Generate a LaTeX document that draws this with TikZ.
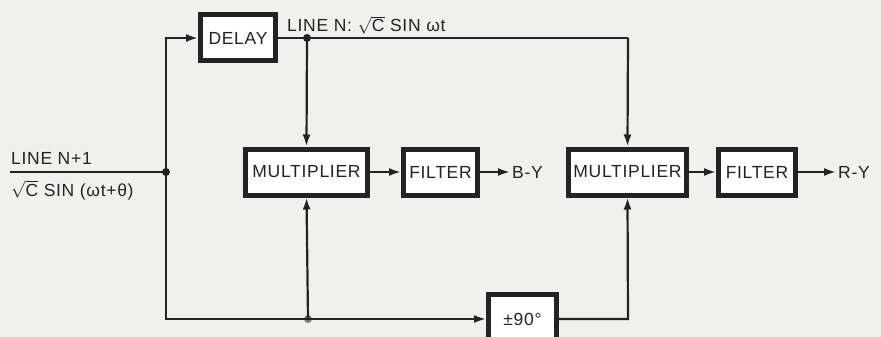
\documentclass[tikz,border=0pt]{standalone}
\usepackage{fontspec}
\setmainfont{Liberation Sans}[LetterSpace=4]
\usetikzlibrary{arrows.meta}
\definecolor{ink}{RGB}{35,35,35}
\definecolor{paper}{RGB}{240,240,238}
\tikzset{
  blk/.style={draw=ink, line width=5pt, fill=white, inner sep=0pt, minimum height=46pt, font=\fontsize{17.5}{20}\selectfont, text=ink},
  wire/.style={draw=ink, line width=2.2pt},
  arr/.style={wire, -{Latex[length=12pt,width=8pt]}},
  lbl/.style={font=\fontsize{17.5}{20}\selectfont, text=ink, inner sep=0pt},
  dot/.style={circle, fill=ink, inner sep=0pt, minimum size=8pt}
}
\begin{document}
\begin{tikzpicture}[x=1pt,y=-1pt]
\fill[paper] (0,0) rectangle (881,337);
\useasboundingbox (0,0) rectangle (881,337);
\begin{scope}
\clip (0,0) rectangle (881,337);
\node[blk, minimum width=75pt, minimum height=46pt] (delay) at (238,38) {DELAY};
\node[blk, minimum width=122pt] (mult1) at (306.5,172) {MULTIPLIER};
\node[blk, minimum width=74pt] (filt1) at (440.5,172) {FILTER};
\node[blk, minimum width=118pt] (mult2) at (627.5,172) {MULTIPLIER};
\node[blk, minimum width=77pt] (filt2) at (757,172) {FILTER};
\node[blk, minimum width=68pt, minimum height=50pt] (shift) at (522.5,319) {±90°};

\coordinate (in) at (10,172);
\node[dot] (jin) at (166,172) {};
\node[dot] (jtop) at (307,38) {};
\node[dot, fill=ink!60] (jbot) at (308,319) {};
\coordinate (ctop) at (628,38);
\coordinate (cbot) at (628,319);
\coordinate (cl1) at (166,38);
\coordinate (cl2) at (166,319);
\coordinate (by) at (510,172);
\coordinate (ry) at (836,172);

\draw[wire] (in) -- (jin.center);
\draw[arr] (jin.center) -- (cl1) -- (delay.west);
\draw[wire] (jin.center) -- (cl2) -- (jbot.center);
\draw[arr] (jbot.center) -- (shift.west);
\draw[wire] (delay.east) -- (jtop.center) -- (ctop);
\draw[arr] (ctop) -- (mult2.north);
\draw[arr] (jtop.center) -- (mult1.north);
\draw[arr] (jbot.center) -- (mult1.south);
\draw[arr] (shift.east) -- (cbot) -- (mult2.south);
\draw[arr] (mult1.east) -- (filt1.west);
\draw[arr] (filt1.east) -- (by);
\draw[arr] (mult2.east) -- (filt2.west);
\draw[arr] (filt2.east) -- (ry);

\node[lbl, anchor=west] (byl) at (512,172) {B-Y};
\node[lbl, anchor=west] (ryl) at (838,172) {R-Y};
\node[lbl, anchor=base west] (lin1) at (11,164) {LINE N+1};
\node[lbl, anchor=base west] (lin2) at (11,196) {$\sqrt{\hbox{C}}$ SIN (ωt+θ)};
\node[lbl, anchor=west] (linn) at (287,25) {LINE N: $\sqrt{\hbox{C}}$ SIN ωt};
\end{scope}
\end{tikzpicture}
\end{document}
